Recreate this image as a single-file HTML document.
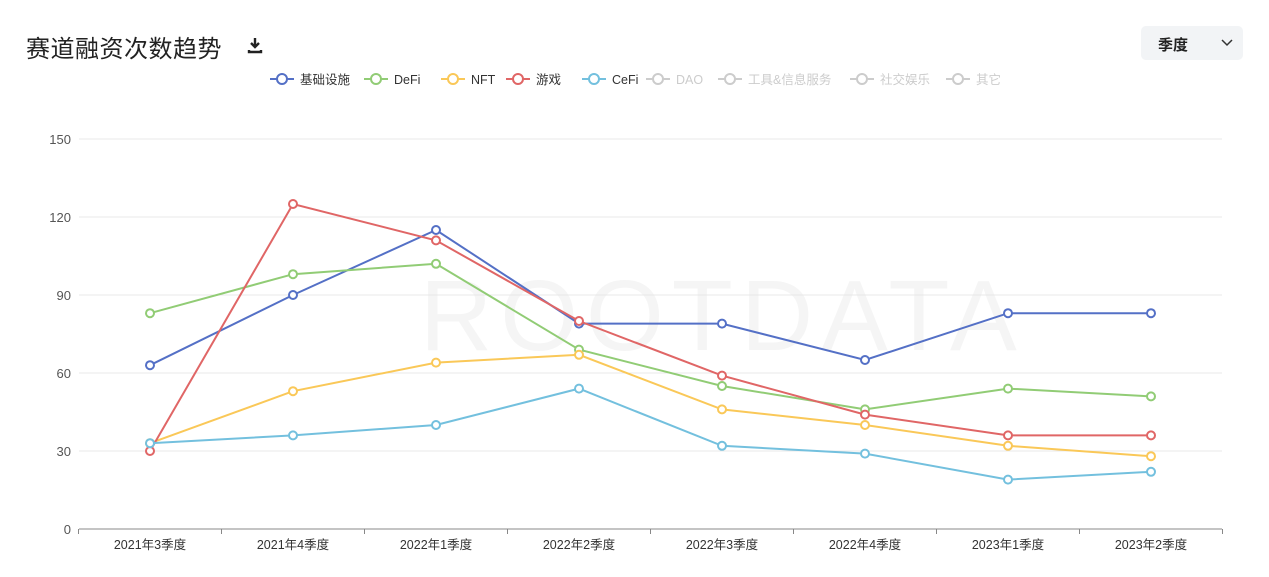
<!DOCTYPE html>
<html><head><meta charset="utf-8"><style>
body{margin:0;background:#fff;width:1269px;height:577px;overflow:hidden;font-family:"Liberation Sans","Noto Sans CJK SC",sans-serif;position:relative}
.title{position:absolute;left:26px;top:29px;font-size:24px;color:#222;letter-spacing:0.5px}
.dl{position:absolute;left:246px;top:36px}
.sel{position:absolute;left:1141px;top:26px;width:102px;height:34px;background:#f2f4f6;border-radius:5px;font-size:15px;font-weight:bold;color:#222}
</style></head><body>
<div class="title">赛道融资次数趋势</div>
<svg class="dl" width="18" height="18"><path d="M9 2v9M5 7l4 4 4-4M3 14v2h12v-2" stroke="#222" stroke-width="2.4" fill="none"/></svg>
<div class="sel"><span style="position:absolute;left:17px;top:8px">季度</span><svg style="position:absolute;left:80px;top:13px" width="12" height="8"><path d="M1 1l5 5 5-5" stroke="#333" stroke-width="1.5" fill="none"/></svg></div>
<svg id="c" width="1269" height="577" style="position:absolute;left:0;top:0"></svg>
<script>
const categories=["2021年3季度","2021年4季度","2022年1季度","2022年2季度","2022年3季度","2022年4季度","2023年1季度","2023年2季度"];
const yTicks=[0,30,60,90,120,150];
const seriesNames=["基础设施","DeFi","NFT","游戏","CeFi","DAO","工具&信息服务","社交娱乐","其它"];
const seriesColors=["#5470c6","#91cc75","#fac858","#e06666","#73c0de","#ccc","#ccc","#ccc","#ccc"];
const infra=[63,90,115,79,79,65,83,83];
const defi=[83,98,102,69,55,46,54,51];
const nft=[33,53,64,67,46,40,32,28];
const game=[30,125,111,80,59,44,36,36];
const cefi=[33,36,40,54,32,29,19,22];
const visible=[infra,defi,nft,game,cefi];
const NS="http://www.w3.org/2000/svg",svg=document.getElementById('c');
const x=i=>150+i*143, y=v=>529-v*2.6;
function mk(t,a,p){const e=document.createElementNS(NS,t);for(const k in a)e.setAttribute(k,a[k]);(p||svg).appendChild(e);return e;}
const wm=mk('text',{x:420,y:350,'font-size':100,fill:'#f5f5f5','font-family':'Liberation Sans','letter-spacing':8});wm.textContent='ROOTDATA';


yTicks.forEach(t=>{
  const l=mk('line',{x1:79,x2:1222,y1:y(t),y2:y(t),stroke:t?'#e8e8e8':'#888'});
  
  
  const tx=mk('text',{x:71,y:y(t)+5,'text-anchor':'end','font-size':13,fill:'#555'});tx.textContent=t;
  
  
});
categories.forEach((c,i)=>{
  mk('line',{x1:x(i)-71.5,x2:x(i)-71.5,y1:529,y2:534,stroke:'#888'});
  const tx=mk('text',{x:x(i),y:549,'text-anchor':'middle','font-size':12.5,fill:'#333'});tx.textContent=c;
  
  
});
mk('line',{x1:1222.5,x2:1222.5,y1:529,y2:534,stroke:'#888'});
visible.forEach((d,s)=>{
  const p=mk('polyline',{points:d.map((v,i)=>x(i)+','+y(v)).join(' '),fill:'none',stroke:seriesColors[s],'stroke-width':2});
  
  
  d.forEach((v,i)=>{const c=mk('circle',{cx:x(i),cy:y(v),r:4,fill:'#fff',stroke:seriesColors[s],'stroke-width':2});
    
    });
});
const legX=[270,364,441,506,582,646,718,850,946];
seriesNames.forEach((n,i)=>{
  const g=mk('g',{});
  
  
  mk('line',{x1:legX[i],x2:legX[i]+24,y1:79,y2:79,stroke:seriesColors[i],'stroke-width':2},g);
  mk('circle',{cx:legX[i]+12,cy:79,r:5,fill:'#fff',stroke:seriesColors[i],'stroke-width':2},g);
  const t=mk('text',{x:legX[i]+30,y:84,'font-size':12.5,fill:i<5?'#333':'#ccc'},g);t.textContent=n;
});
</script>
</body></html>
